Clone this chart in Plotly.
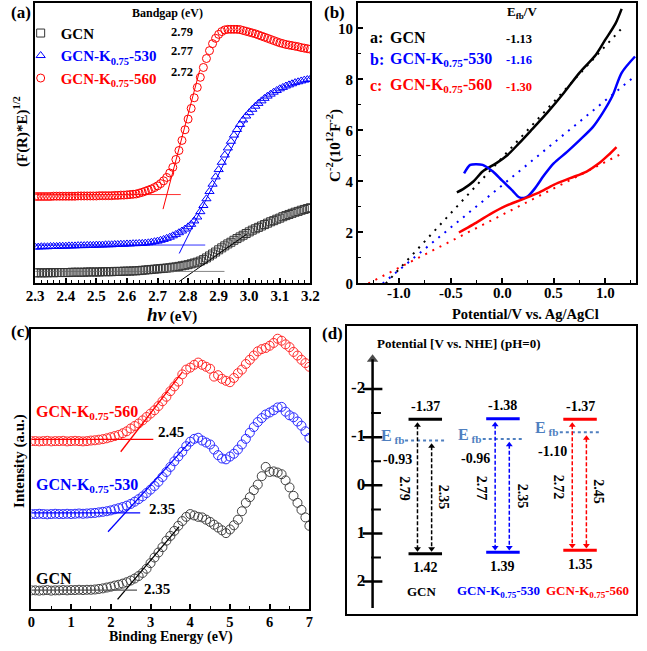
import plotly.graph_objects as go

W, H = 647, 651
FONT = "Liberation Serif"
BLACK = "#000000"
BLUE = "#0000ff"
RED = "#ff0000"
EFB_COL = "#4f7fbf"

# ---------------- panel (a): Kubelka-Munk ----------------
a_x = [2.30, 2.31, 2.32, 2.33, 2.34, 2.35, 2.36, 2.37, 2.38, 2.39,
       2.40, 2.41, 2.42, 2.43, 2.44, 2.45, 2.46, 2.47, 2.48, 2.49,
       2.50, 2.51, 2.52, 2.53, 2.54, 2.55, 2.56, 2.57, 2.58, 2.59,
       2.60, 2.61, 2.62, 2.63, 2.64, 2.65, 2.66, 2.67, 2.68, 2.69,
       2.70, 2.71, 2.72, 2.73, 2.74, 2.75, 2.76, 2.77, 2.78, 2.79,
       2.80, 2.81, 2.82, 2.83, 2.84, 2.85, 2.86, 2.87, 2.88, 2.89,
       2.90, 2.91, 2.92, 2.93, 2.94, 2.95, 2.96, 2.97, 2.98, 2.99,
       3.00, 3.01, 3.02, 3.03, 3.04, 3.05, 3.06, 3.07, 3.08, 3.09,
       3.10, 3.11, 3.12, 3.13, 3.14, 3.15, 3.16, 3.17, 3.18, 3.19,
       3.20]
a_gcn = [0.38, 0.38, 0.38, 0.38, 0.38, 0.39, 0.38, 0.39, 0.39, 0.39,
         0.39, 0.39, 0.40, 0.40, 0.40, 0.40, 0.40, 0.41, 0.41, 0.41,
         0.41, 0.41, 0.42, 0.42, 0.42, 0.42, 0.43, 0.43, 0.43, 0.44,
         0.44, 0.44, 0.45, 0.45, 0.46, 0.47, 0.48, 0.49, 0.50, 0.51,
         0.52, 0.53, 0.54, 0.55, 0.56, 0.58, 0.59, 0.61, 0.63, 0.65,
         0.67, 0.70, 0.73, 0.76, 0.80, 0.85, 0.91, 0.98, 1.05, 1.12,
         1.20, 1.27, 1.34, 1.41, 1.47, 1.54, 1.60, 1.66, 1.72, 1.78,
         1.84, 1.90, 1.95, 2.00, 2.05, 2.10, 2.15, 2.20, 2.24, 2.29,
         2.33, 2.38, 2.42, 2.46, 2.50, 2.54, 2.57, 2.61, 2.64, 2.67,
         2.70]
a_530 = [1.30, 1.30, 1.31, 1.31, 1.31, 1.32, 1.32, 1.32, 1.33, 1.33,
         1.33, 1.34, 1.34, 1.34, 1.35, 1.35, 1.35, 1.36, 1.36, 1.36,
         1.37, 1.37, 1.37, 1.38, 1.38, 1.38, 1.39, 1.39, 1.40, 1.40,
         1.41, 1.41, 1.42, 1.42, 1.43, 1.43, 1.44, 1.45, 1.47, 1.49,
         1.51, 1.54, 1.57, 1.61, 1.65, 1.70, 1.75, 1.81, 1.87, 1.94,
         2.02, 2.11, 2.23, 2.37, 2.56, 2.78, 3.02, 3.28, 3.54, 3.80,
         4.06, 4.32, 4.58, 4.83, 5.07, 5.29, 5.49, 5.67, 5.83, 5.97,
         6.09, 6.21, 6.32, 6.42, 6.51, 6.60, 6.68, 6.75, 6.82, 6.88,
         6.94, 6.99, 7.04, 7.08, 7.12, 7.16, 7.19, 7.22, 7.25, 7.27,
         7.29]
a_560 = [3.10, 3.10, 3.10, 3.10, 3.10, 3.10, 3.11, 3.11, 3.11, 3.11,
         3.11, 3.11, 3.11, 3.11, 3.12, 3.12, 3.12, 3.12, 3.12, 3.12,
         3.12, 3.13, 3.13, 3.13, 3.13, 3.13, 3.14, 3.14, 3.15, 3.15,
         3.16, 3.17, 3.18, 3.19, 3.22, 3.25, 3.29, 3.33, 3.37, 3.42,
         3.48, 3.56, 3.66, 3.78, 3.94, 4.14, 4.42, 4.74, 5.10, 5.48,
         5.86, 6.24, 6.62, 6.99, 7.35, 7.70, 8.02, 8.30, 8.55, 8.74,
         8.88, 8.98, 9.04, 9.06, 9.06, 9.06, 9.06, 9.05, 9.02, 8.99,
         8.96, 8.93, 8.90, 8.86, 8.82, 8.78, 8.74, 8.70, 8.66, 8.62,
         8.58, 8.55, 8.52, 8.50, 8.48, 8.46, 8.44, 8.41, 8.39, 8.37,
         8.35]
# tangent and baseline segments (x0,x1), (y0,y1)
a_fit_x = {"gcn": [2.771, 2.993], "530": [2.771, 2.988], "560": [2.718, 2.838]}
a_fit_y = {"gcn": [0.07, 1.77], "530": [1.07, 5.82], "560": [2.65, 7.60]}
a_base_x = {"gcn": [2.30, 2.919], "530": [2.30, 2.856], "560": [2.30, 2.776]}
a_base_y = {"gcn": [0.43, 0.43], "530": [1.37, 1.37], "560": [3.17, 3.17]}
bandgaps = ["2.79", "2.77", "2.72"]
a_ticks = [2.3, 2.4, 2.5, 2.6, 2.7, 2.8, 2.9, 3.0, 3.1, 3.2]

# ---------------- panel (b): Mott-Schottky ----------------
b_gcn_x = [-0.44, -0.38, -0.28, -0.19, -0.06, 0.05, 0.16, 0.28, 0.44, 0.60, 0.75, 0.91, 1.00, 1.10, 1.16]
b_gcn_y = [3.57, 3.70, 4.00, 4.39, 4.71, 5.03, 5.48, 6.00, 6.71, 7.48, 8.26, 8.97, 9.55, 10.19, 10.77]
b_530_x = [-0.37, -0.31, -0.25, -0.19, -0.09, 0.00, 0.10, 0.16, 0.21, 0.25, 0.32, 0.41, 0.50, 0.63, 0.75, 0.88, 0.97, 1.07, 1.16, 1.29]
b_530_y = [4.32, 4.65, 4.68, 4.65, 4.39, 4.03, 3.64, 3.39, 3.35, 3.42, 3.74, 4.26, 4.71, 5.16, 5.61, 6.13, 6.65, 7.35, 8.26, 8.90]
b_560_x = [-0.42, -0.28, -0.12, 0.03, 0.19, 0.35, 0.50, 0.66, 0.82, 0.94, 1.03, 1.11]
b_560_y = [2.00, 2.32, 2.71, 3.03, 3.29, 3.55, 3.87, 4.13, 4.39, 4.71, 5.03, 5.35]
b_efb = [-1.13, -1.16, -1.30]
b_fit_end_x = [1.16, 1.28, 1.14]
b_fit_end_y = [10.0, 8.1, 5.05]
b_xticks = [-1.0, -0.5, 0.0, 0.5, 1.0]
b_xticktext = ["-1.0", "-0.5", "0.0", "0.5", "1.0"]

# ---------------- panel (c): VB-XPS ----------------
c_x = [0.0, 0.1, 0.2, 0.3, 0.4, 0.5, 0.6, 0.7, 0.8, 0.9,
       1.0, 1.1, 1.2, 1.3, 1.4, 1.5, 1.6, 1.7, 1.8, 1.9,
       2.0, 2.1, 2.2, 2.3, 2.4, 2.5, 2.6, 2.7, 2.8, 2.9,
       3.0, 3.1, 3.2, 3.3, 3.4, 3.5, 3.6, 3.7, 3.8, 3.9,
       4.0, 4.1, 4.2, 4.3, 4.4, 4.5, 4.6, 4.7, 4.8, 4.9,
       5.0, 5.1, 5.2, 5.3, 5.4, 5.5, 5.6, 5.7, 5.8, 5.9,
       6.0, 6.1, 6.2, 6.3, 6.4, 6.5, 6.6, 6.7, 6.8, 6.9,
       7.0]
c_560 = [6.00, 6.00, 5.99, 6.00, 6.01, 5.99, 6.00, 6.00, 6.01, 5.99,
         6.00, 6.01, 6.00, 5.99, 6.00, 6.02, 6.03, 6.05, 6.07, 6.10,
         6.14, 6.18, 6.22, 6.28, 6.35, 6.45, 6.54, 6.63, 6.74, 6.86,
         6.98, 7.10, 7.25, 7.42, 7.58, 7.78, 7.95, 8.12, 8.38, 8.55,
         8.62, 8.72, 8.80, 8.72, 8.65, 8.58, 8.30, 8.35, 8.22, 8.15,
         8.10, 8.25, 8.42, 8.55, 8.75, 8.90, 9.05, 9.20, 9.28, 9.32,
         9.40, 9.50, 9.65, 9.58, 9.45, 9.35, 9.18, 9.05, 8.90, 8.78,
         8.65]
c_530 = [3.40, 3.40, 3.41, 3.40, 3.39, 3.40, 3.41, 3.40, 3.40, 3.41,
         3.40, 3.41, 3.42, 3.41, 3.42, 3.43, 3.44, 3.46, 3.48, 3.50,
         3.53, 3.57, 3.61, 3.65, 3.70, 3.76, 3.84, 3.93, 4.03, 4.15,
         4.27, 4.40, 4.55, 4.72, 4.90, 5.08, 5.28, 5.45, 5.62, 5.82,
         5.98, 6.08, 6.12, 6.02, 5.95, 5.88, 5.70, 5.50, 5.38, 5.35,
         5.45, 5.55, 5.70, 5.88, 6.08, 6.30, 6.50, 6.68, 6.82, 6.95,
         7.02, 7.10, 7.20, 7.22, 7.05, 6.92, 6.85, 6.70, 6.55, 6.35,
         6.12]
c_gcn = [0.68, 0.68, 0.67, 0.68, 0.69, 0.67, 0.68, 0.68, 0.69, 0.68,
         0.69, 0.69, 0.70, 0.69, 0.70, 0.70, 0.71, 0.73, 0.75, 0.78,
         0.81, 0.85, 0.88, 0.92, 0.97, 1.03, 1.10, 1.19, 1.30, 1.45,
         1.65, 1.85, 2.03, 2.22, 2.45, 2.62, 2.80, 2.98, 3.15, 3.30,
         3.40, 3.35, 3.30, 3.28, 3.20, 3.12, 3.02, 2.92, 2.82, 2.72,
         2.85, 3.00, 3.20, 3.50, 3.80, 4.00, 4.25, 4.45, 4.75, 5.08,
         4.90, 4.92, 4.88, 4.82, 4.60, 4.35, 4.05, 3.80, 3.55, 3.28,
         2.98]
c_fit_x = {"gcn": [2.17, 3.72], "530": [1.93, 4.00], "560": [2.25, 3.80]}
c_fit_y = {"gcn": [0.36, 2.95], "530": [2.77, 5.98], "560": [5.62, 8.46]}
c_base_x = {"gcn": [0.0, 2.66], "530": [0.0, 2.74], "560": [0.0, 3.07]}
c_base_y = {"gcn": [0.69, 0.69], "530": [3.44, 3.44], "560": [6.06, 6.06]}
vb_xps = ["2.35", "2.35", "2.45"]

# ---------------- panel (d): band diagram ----------------
d_cb = [-1.37, -1.38, -1.37]
d_vb = [1.42, 1.39, 1.35]
d_efb = [-0.93, -0.96, -1.10]
d_eg = [2.79, 2.77, 2.72]
d_efb_vb = [2.35, 2.35, 2.45]
d_major = [-2, -1, 0, 1, 2]
d_major_text = ["-2", "-1", "0", "1", "2"]
d_minor = [-1.5, -0.5, 0.5, 1.5]

names_html = ["GCN", "GCN-K<sub>0.75</sub>-530", "GCN-K<sub>0.75</sub>-560"]
colors = [BLACK, BLUE, RED]
keys = ["gcn", "530", "560"]

fig = go.Figure()

# ---- (a)
a_series = [a_gcn, a_530, a_560]
a_symbols = ["square-open", "triangle-up-open", "circle-open"]
a_mcol = ["#333333", BLUE, RED]
for i, k in enumerate(keys):
    nm = names_html[i] if i == 0 else f"<span style='color:{colors[i]}'>{names_html[i]}</span>"
    fig.add_trace(go.Scatter(x=a_x, y=a_series[i], mode="markers", name=nm,
                             marker=dict(symbol=a_symbols[i], size=8, color=a_mcol[i],
                                         line=dict(width=1, color=a_mcol[i])),
                             xaxis="x", yaxis="y", showlegend=True))
for i, k in enumerate(keys):
    fig.add_trace(go.Scatter(x=a_fit_x[k], y=a_fit_y[k], mode="lines",
                             line=dict(color=colors[i], width=1), xaxis="x", yaxis="y", showlegend=False))
    fig.add_trace(go.Scatter(x=a_base_x[k], y=a_base_y[k], mode="lines",
                             line=dict(color=colors[i] if i else "#666666", width=1), opacity=0.8,
                             xaxis="x", yaxis="y", showlegend=False))

# ---- (b)
b_sx = [b_gcn_x, b_530_x, b_560_x]
b_sy = [b_gcn_y, b_530_y, b_560_y]
for i in range(3):
    fig.add_trace(go.Scatter(x=[b_efb[i], b_fit_end_x[i]], y=[0, b_fit_end_y[i]], mode="lines",
                             line=dict(color=colors[i], width=2, dash="2px,6px"),
                             xaxis="x2", yaxis="y2", showlegend=False))
    fig.add_trace(go.Scatter(x=b_sx[i], y=b_sy[i], mode="lines",
                             line=dict(color=colors[i], width=2.5, shape="spline", smoothing=0.8),
                             xaxis="x2", yaxis="y2", showlegend=False))

# ---- (c)
c_series = [c_gcn, c_530, c_560]
c_mcol = ["#404040", "#2a2aff", "#ff2a2a"]
for i, k in enumerate(keys):
    fig.add_trace(go.Scatter(x=c_x, y=c_series[i], mode="markers",
                             marker=dict(symbol="circle-open", size=9, color=c_mcol[i],
                                         line=dict(width=1, color=c_mcol[i])),
                             xaxis="x3", yaxis="y3", showlegend=False))
    fig.add_trace(go.Scatter(x=c_fit_x[k], y=c_fit_y[k], mode="lines",
                             line=dict(color=colors[i], width=1.3), xaxis="x3", yaxis="y3", showlegend=False))
    fig.add_trace(go.Scatter(x=c_base_x[k], y=c_base_y[k], mode="lines",
                             line=dict(color=colors[i] if i else "#555555", width=1.3),
                             xaxis="x3", yaxis="y3", showlegend=False))

# ---- (d)
AX_X = 0.875
centers = [2.7, 5.39, 8.06]
name_x = [2.59, 5.22, 8.32]
fig.add_trace(go.Scatter(x=[AX_X, AX_X], y=[2.55, -2.62], mode="lines+markers",
                         line=dict(color=BLACK, width=2.5),
                         marker=dict(symbol=["line-ew", "triangle-up"], size=[0, 10], color=BLACK,
                                     line=dict(width=0)),
                         xaxis="x4", yaxis="y4", showlegend=False))
fig.add_trace(go.Scatter(x=[AX_X] * len(d_major), y=d_major, mode="markers",
                         marker=dict(symbol="line-ew", size=14, line=dict(width=2.5, color=BLACK)),
                         xaxis="x4", yaxis="y4", showlegend=False))
fig.add_trace(go.Scatter(x=[AX_X + 0.12] * len(d_minor), y=d_minor, mode="markers",
                         marker=dict(symbol="line-ew", size=7, line=dict(width=2, color=BLACK)),
                         xaxis="x4", yaxis="y4", showlegend=False))
fig.add_trace(go.Scatter(x=[0.62] * len(d_major), y=d_major, mode="text", text=d_major_text,
                         textposition="middle left",
                         textfont=dict(family=FONT, size=17, color=BLACK, weight="bold"),
                         xaxis="x4", yaxis="y4", showlegend=False))
for i in range(3):
    c = centers[i]
    col = colors[i]
    for lev in (d_cb[i], d_vb[i]):
        fig.add_trace(go.Scatter(x=[c - 0.58, c + 0.58], y=[lev, lev], mode="lines",
                                 line=dict(color=col, width=3), xaxis="x4", yaxis="y4", showlegend=False))
    fig.add_trace(go.Scatter(x=[c - 0.7, c + 0.7], y=[d_efb[i], d_efb[i]], mode="lines",
                             line=dict(color=EFB_COL, width=2, dash="dot"),
                             xaxis="x4", yaxis="y4", showlegend=False))
    # double-headed dashed arrows
    for xa, top, bot in ((c - 0.27, d_cb[i] + 0.12, d_vb[i] - 0.1),
                         (c + 0.22, d_efb[i] + 0.12, d_vb[i] - 0.1)):
        fig.add_trace(go.Scatter(x=[xa, xa], y=[top, bot], mode="lines+markers",
                                 line=dict(color=col, width=1.5, dash="4px,2px"),
                                 marker=dict(symbol=["triangle-up", "triangle-down"], size=6, color=col),
                                 xaxis="x4", yaxis="y4", showlegend=False))

# ---------------- annotations ----------------
ann = []


def A(text, px, py, size=15, color=BLACK, xanchor="center", yanchor="middle", angle=0):
    ann.append(dict(text=text, x=px / W, y=1 - py / H, xref="paper", yref="paper",
                    xanchor=xanchor, yanchor=yanchor, showarrow=False, textangle=angle,
                    font=dict(family=FONT, size=size, color=color, weight="bold")))


def D(text, x, y, size=14, color=BLACK, xanchor="center", yanchor="middle", angle=0, yshift=0):
    ann.append(dict(text=text, x=x, y=y, xref="x4", yref="y4", xanchor=xanchor, yanchor=yanchor,
                    showarrow=False, textangle=angle, yshift=yshift,
                    font=dict(family=FONT, size=size, color=color, weight="bold")))


# panel labels
A("(a)", 0, 13, 17, xanchor="left")
A("(b)", 322, 13, 17, xanchor="left")
A("(c)", 0, 336, 17, xanchor="left")
A("(d)", 320, 338, 17, xanchor="left")

# (a)
A("Bandgap (eV)", 163, 13, 12)
for i, g in enumerate(bandgaps):
    A(g, 178, [32, 52, 73][i], 12.5)
A("(F(R)*E)<sup>1/2</sup>", 12, 133, 15, angle=-90)
A("<i>hν</i><span style='font-size:15px'> (eV)</span>", 168, 318, 19)

# (b)
A("E<sub>fb</sub>/V", 528, 13, 13)
rows_b = [38, 60, 87]
letters = ["a:", "b:", "c:"]
for i in range(3):
    A(letters[i], 369, rows_b[i], 16, colors[i], xanchor="left")
    A(names_html[i], 390, rows_b[i], 16, colors[i], xanchor="left")
    A(f"{b_efb[i]:.2f}", 525, rows_b[i] + 1, 12.5, colors[i])
A("C<sup>-2</sup>(10<sup>12</sup>F<sup>-2</sup>)", 334, 147, 15, angle=-90)
A("Potential/V vs. Ag/AgCl", 531, 318, 14.5)
# x tick labels of (b), placed on the x2 data scale
for tv, tt in zip(b_xticks, b_xticktext):
    ann.append(dict(text=tt, x=tv, y=1 - 297 / H, xref="x2", yref="paper", xanchor="center",
                    yanchor="middle", showarrow=False,
                    font=dict(family=FONT, size=15, color=BLACK, weight="bold")))

# (c)
A(names_html[2], 26, 418, 16, RED, xanchor="left")
A(names_html[1], 26, 492, 16, BLUE, xanchor="left")
A(names_html[0], 26, 586, 16, BLACK, xanchor="left")
A(vb_xps[2], 151, 437, 15, xanchor="left")
A(vb_xps[1], 142, 515, 15, xanchor="left")
A(vb_xps[0], 137, 596, 15, xanchor="left")
A("Intensity (a.u.)", 11, 467, 15, angle=-90)
A("Binding Energy (eV)", 167, 645, 14)

# (d)
A("Potential [V vs. NHE] (pH=0)", 463, 348, 13)
for i in range(3):
    c = centers[i]
    col = colors[i]
    D(f"{d_cb[i]:.2f}", c, d_cb[i], 14, BLACK, yshift=13)
    D(f"{d_vb[i]:.2f}", c, d_vb[i], 14, BLACK, yshift=-14)
    ann.append(dict(text=names_html[i], x=name_x[i], y=1 - 599 / H, xref="x4", yref="paper",
                    xanchor="center", yanchor="middle", showarrow=False,
                    font=dict(family=FONT, size=13, color=col, weight="bold")))
    D("E<sub> fb</sub>", c - 0.68, d_efb[i], 16, EFB_COL, xanchor="right", yshift=4)
    D(f"{d_efb[i]:.2f}", c - 0.95, d_efb[i], 14, BLACK, yshift=-19)
    D(f"{d_eg[i]:.2f}", c - 0.75, (d_cb[i] + d_vb[i]) / 2 + 0.05, 14, BLACK, angle=90)
    D(f"{d_efb_vb[i]:.2f}", c + 0.66, (d_efb[i] + d_vb[i]) / 2, 14, BLACK, angle=90)

tickfont = dict(family=FONT, size=15, color=BLACK, weight="bold")


def axis(**kw):
    base = dict(showline=True, linewidth=2, linecolor=BLACK, mirror=True, showgrid=False,
                zeroline=False, ticks="inside", ticklen=5, tickwidth=1.5, tickcolor=BLACK,
                tickfont=dict(tickfont))
    base.update(kw)
    return base


minor_kw = dict(ticks="inside", ticklen=3, tickwidth=1, tickcolor=BLACK)

fig.update_layout(
    width=W, height=H, margin=dict(l=0, r=0, t=0, b=0),
    paper_bgcolor="white", plot_bgcolor="white",
    font=dict(family=FONT, size=15, color=BLACK, weight="bold"),
    annotations=ann,
    legend=dict(x=12 / W, y=1 - 17 / H, xanchor="left", yanchor="top", bgcolor="rgba(0,0,0,0)",
                font=dict(family=FONT, size=15, color=BLACK, weight="bold"), tracegroupgap=0,
                itemwidth=30),
    xaxis=axis(domain=[27 / W, 310 / W], range=[2.3, 3.2], tickvals=a_ticks,
               ticktext=[f"{t:.1f}" for t in a_ticks], ticklabelstandoff=-2,
               minor=dict(minor_kw, dtick=0.02, tick0=2.3), anchor="y"),
    yaxis=axis(domain=[1 - 287 / H, 1 - 3 / H], range=[0, 10], ticks="",
               showticklabels=False, anchor="x"),
    xaxis2=axis(domain=[359 / W, 645 / W], range=[-1.4, 1.3], tickvals=b_xticks,
                showticklabels=False,
                minor=dict(minor_kw, dtick=0.25, tick0=0), anchor="y2"),
    yaxis2=axis(domain=[1 - 287 / H, 1 - 3 / H], range=[0, 11], dtick=2, tick0=0,
                minor=dict(minor_kw, dtick=1), anchor="x2"),
    xaxis3=axis(domain=[23 / W, 309 / W], range=[0, 7], dtick=1, tick0=0, ticklabelstandoff=-2,
                tickfont=dict(family=FONT, size=14.5, color=BLACK, weight="bold"),
                minor=dict(minor_kw, dtick=0.5), anchor="y3"),
    yaxis3=axis(domain=[1 - 617 / H, 1 - 333 / H], range=[0, 10], ticks="",
                showticklabels=False, anchor="x3"),
    xaxis4=axis(domain=[348 / W, 645 / W], range=[0, 10], ticks="", showticklabels=False, anchor="y4"),
    yaxis4=axis(domain=[1 - 622 / H, 1 - 330 / H], range=[2.68, -3.31], ticks="",
                showticklabels=False, anchor="x4"),
)

fig.write_html("out.html",
               config={"displayModeBar": False},
               post_script="document.body.style.margin='0';document.body.style.padding='0';"
                           "document.documentElement.style.overflow='hidden';")
